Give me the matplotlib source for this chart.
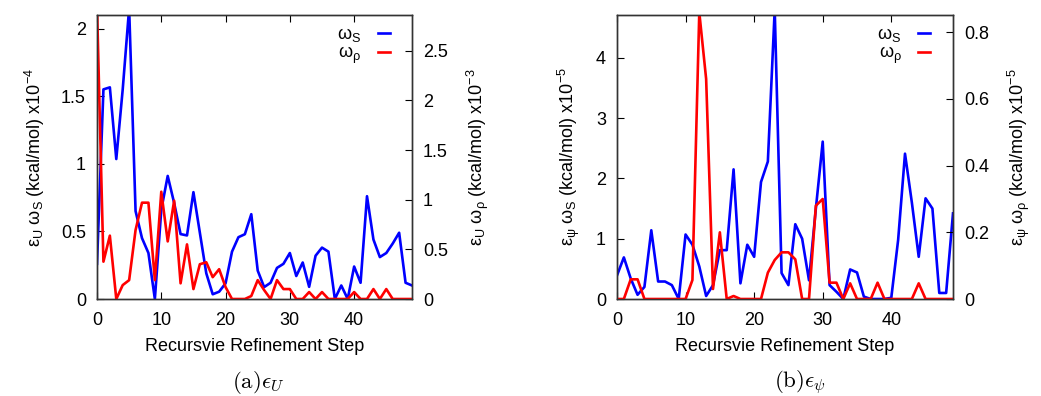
import matplotlib
matplotlib.use("Agg")
import matplotlib.pyplot as plt
from matplotlib.ticker import FuncFormatter
from matplotlib.lines import Line2D

plt.rcParams['font.family'] = ['Liberation Sans', 'DejaVu Sans']

steps = list(range(50))

# (a) epsilon_U
u_omega_s = [0.26, 1.55, 1.565, 1.035, 1.55, 2.15, 0.65, 0.45, 0.34, 0.0,
             0.66, 0.91, 0.71, 0.48, 0.47, 0.79, 0.49, 0.19, 0.035, 0.054,
             0.116, 0.35, 0.457, 0.479, 0.627, 0.21, 0.088, 0.12, 0.23, 0.26,
             0.34, 0.17, 0.27, 0.09, 0.32, 0.38, 0.35, 0.0, 0.10, 0.0,
             0.24, 0.12, 0.76, 0.44, 0.31, 0.34, 0.41, 0.49, 0.12, 0.10]
u_omega_rho = [2.95, 0.376, 0.638, 0.0, 0.14, 0.19, 0.695, 0.97, 0.97, 0.19,
               1.08, 0.58, 0.99, 0.158, 0.55, 0.10, 0.35, 0.37, 0.22, 0.30,
               0.12, 0.0, 0.0, 0.0, 0.03, 0.19, 0.09, 0.0, 0.19, 0.10,
               0.10, 0.0, 0.0, 0.07, 0.0, 0.07, 0.0, 0.0, 0.0, 0.0,
               0.07, 0.0, 0.0, 0.10, 0.0, 0.10, 0.0, 0.0, 0.0, 0.0]

# (b) epsilon_psi
psi_omega_s = [0.39, 0.69, 0.34, 0.07, 0.20, 1.14, 0.29, 0.29, 0.23, 0.0,
               1.07, 0.90, 0.54, 0.05, 0.23, 0.81, 0.81, 2.15, 0.26, 0.90,
               0.70, 1.94, 2.28, 4.80, 0.43, 0.23, 1.24, 1.00, 0.31, 1.50,
               2.61, 0.23, 0.12, 0.0, 0.49, 0.44, 0.04, 0.0, 0.0, 0.0,
               0.02, 0.98, 2.41, 1.60, 0.70, 1.67, 1.50, 0.10, 0.10, 1.42]
psi_omega_rho = [0.0, 0.0, 0.059, 0.059, 0.0, 0.0, 0.0, 0.0, 0.0, 0.0,
                 0.0, 0.057, 0.86, 0.66, 0.03, 0.20, 0.0, 0.009, 0.0, 0.0,
                 0.0, 0.0, 0.079, 0.117, 0.14, 0.14, 0.119, 0.0, 0.0, 0.28,
                 0.30, 0.049, 0.049, 0.0, 0.047, 0.0, 0.0, 0.0, 0.049, 0.0,
                 0.0, 0.0, 0.0, 0.0, 0.047, 0.0, 0.0, 0.0, 0.0, 0.0]

xticks = [0, 10, 20, 30, 40]

fig = plt.figure(figsize=(10.41, 3.96), dpi=100)
W, H = 1041, 396

fmt = FuncFormatter(lambda v, p: '%g' % round(v, 6))
FS = 13


def panel(rect, s, r, ylim1, yt1, ylim2, yt2, lab1, lab2, caption, capx):
    ax = fig.add_axes(rect)
    ax2 = ax.twinx()
    ax.plot(steps, s, color='#0000ff', lw=1.9)
    ax2.plot(steps, r, color='#ff0000', lw=1.9)
    ax.set_xlim(0, 49)
    ax.set_ylim(*ylim1)
    ax2.set_ylim(*ylim2)
    ax.set_xticks(xticks)
    ax.set_yticks(yt1)
    ax2.set_yticks(yt2)
    ax.yaxis.set_major_formatter(fmt)
    ax2.yaxis.set_major_formatter(fmt)
    ax.tick_params(axis='x', direction='in', top=True, length=5, labelsize=FS, pad=9.5)
    ax.tick_params(axis='y', direction='in', right=False, length=5, labelsize=FS, pad=8)
    ax2.tick_params(axis='y', direction='in', length=5, labelsize=FS, pad=8)
    for a in (ax, ax2):
        for sp in a.spines.values():
            sp.set_color('#333333')
            sp.set_linewidth(1.0)
    ax.set_xlabel('Recursvie Refinement Step', fontsize=FS, labelpad=6)
    ax.set_ylabel(lab1, fontsize=FS, labelpad=10)
    ax2.set_ylabel(lab2, fontsize=FS, labelpad=12)
    handles = [Line2D([], [], color='#0000ff', lw=1.9),
               Line2D([], [], color='#ff0000', lw=1.9)]
    ax2.legend(handles, [r'ω$_\mathregular{S}$', r'ω$_\mathregular{ρ}$'],
               loc='upper right', bbox_to_anchor=(0.965, 1.0), frameon=False,
               markerfirst=False, handlelength=0.7, handletextpad=0.9,
               labelspacing=0.05, fontsize=FS, borderaxespad=0.2)
    fig.text(capx, 13 / H, caption, ha='center', va='center', fontsize=16.5,
             family='DejaVu Serif', math_fontfamily='cm')
    return ax, ax2


panel([97 / W, 97 / H, 315 / W, 284 / H], u_omega_s, u_omega_rho,
      (0, 2.1), [0, 0.5, 1, 1.5, 2], (0, 2.86), [0, 0.5, 1, 1.5, 2, 2.5],
      r'ε$_\mathregular{U}$ ω$_\mathregular{S}$ (kcal/mol) x10$^\mathregular{-4}$',
      r'ε$_\mathregular{U}$ ω$_\mathregular{ρ}$ (kcal/mol) x10$^\mathregular{-3}$',
      r'$\mathrm{(a)}\epsilon_U$', 258 / W)

panel([617 / W, 97 / H, 336 / W, 284 / H], psi_omega_s, psi_omega_rho,
      (0, 4.71), [0, 1, 2, 3, 4], (0, 0.852), [0, 0.2, 0.4, 0.6, 0.8],
      r'ε$_\mathregular{ψ}$ ω$_\mathregular{S}$ (kcal/mol) x10$^\mathregular{-5}$',
      r'ε$_\mathregular{ψ}$ ω$_\mathregular{ρ}$ (kcal/mol) x10$^\mathregular{-5}$',
      r'$\mathrm{(b)}\epsilon_\psi$', 800 / W)

fig.savefig('out.png', dpi=100)
